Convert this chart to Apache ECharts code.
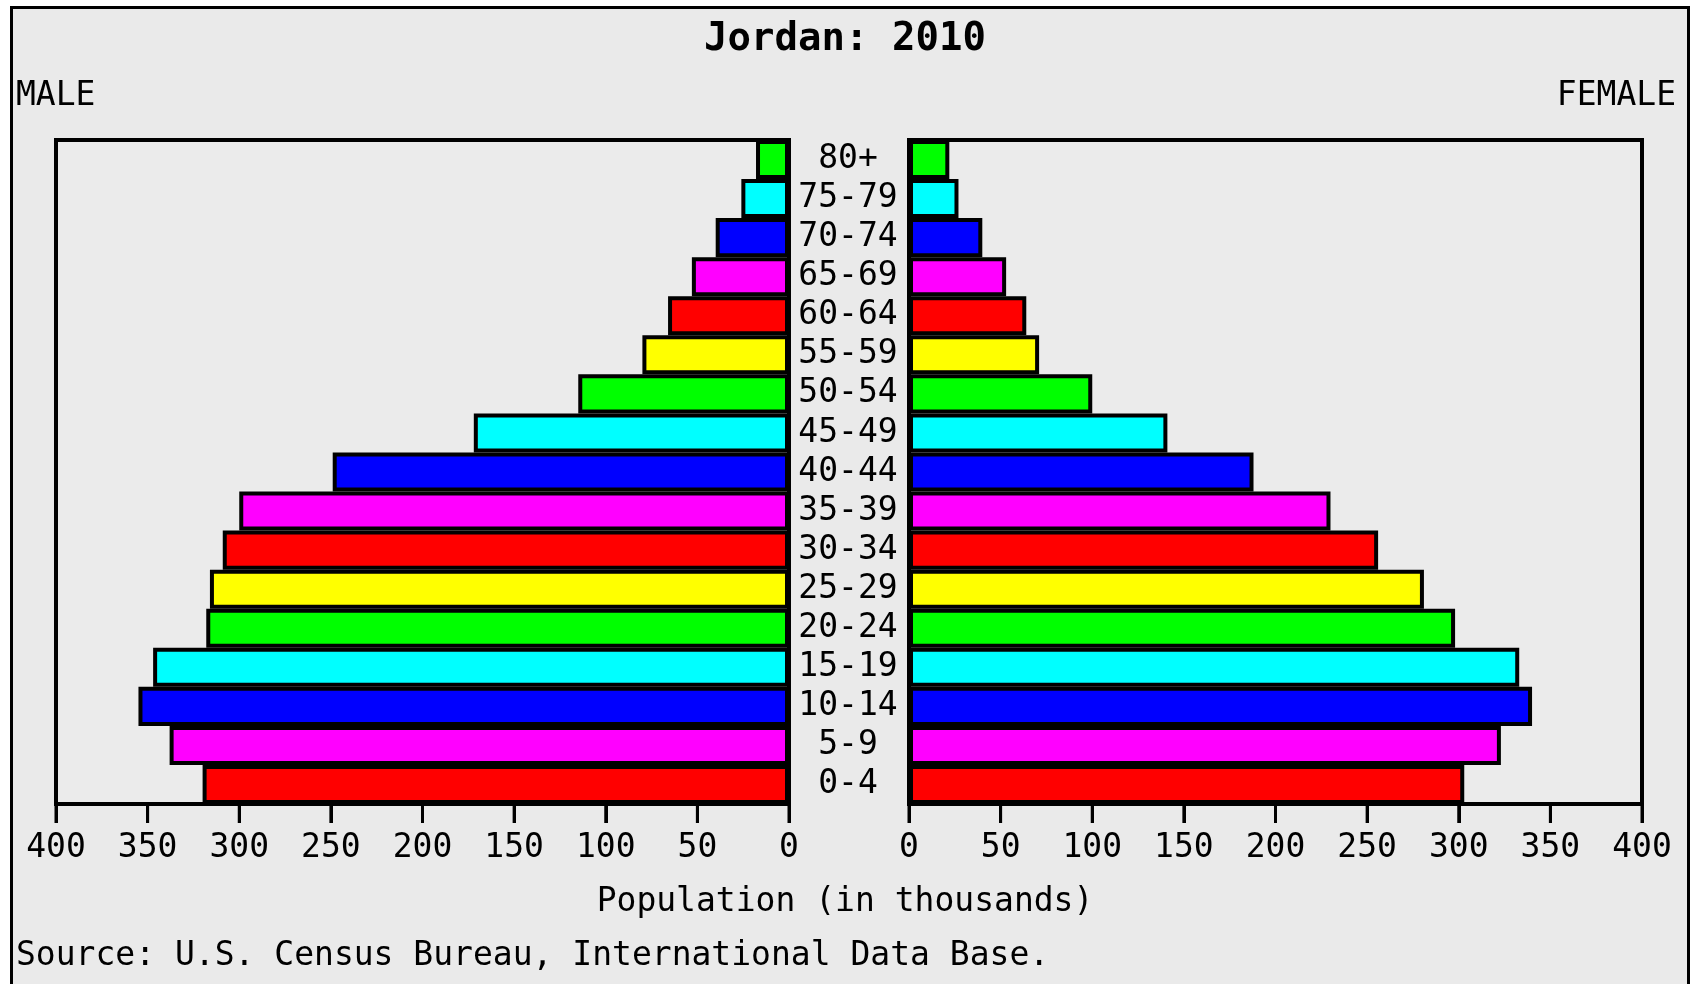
<!DOCTYPE html>
<html>
<head>
<meta charset="utf-8">
<script src="https://cdn.jsdelivr.net/npm/echarts@6/dist/echarts.min.js"></script>
<style>
html,body{margin:0;padding:0;background:#fff;overflow:hidden;}
#frame{position:absolute;left:10px;top:6px;width:1674px;height:1000px;background:#EAEAEA;border:3px solid #000;z-index:0;}
.plotbox{position:absolute;box-sizing:border-box;top:138px;width:737px;height:668px;border:4px solid #000;background:#EBEBEB;z-index:0;}
#chart{position:absolute;left:0;top:0;width:1690px;height:984px;z-index:1;}
</style>
</head>
<body>
<div id="frame"></div>
<div class="plotbox" style="left:54px"></div>
<div class="plotbox" style="left:907px"></div>
<div id="chart"></div>
<script>
const ageGroups = ['0-4','5-9','10-14','15-19','20-24','25-29','30-34','35-39','40-44','45-49','50-54','55-59','60-64','65-69','70-74','75-79','80+'];
const maleValues = [320, 338, 355, 347, 318, 316, 309, 300, 249, 172, 115, 80, 66, 53, 40, 26, 18];
const femaleValues = [303, 323, 340, 333, 298, 281, 256, 230, 188, 141, 100, 71, 64, 53, 40, 27, 22];
const barColors = ['#FF0000','#FF00FF','#0000FF','#00FFFF','#00FF00','#FFFF00'];
const xTicks = [0, 50, 100, 150, 200, 250, 300, 350, 400];

const FONT = '"DejaVu Sans Mono", "Liberation Mono", monospace';
const W = 1690;
const GRID_TOP = 140, GRID_BOTTOM = 180;
const TICK_LEN = 19;

function coloredData(values) {
  return values.map((v, i) => ({ value: v, itemStyle: { color: barColors[i % barColors.length] } }));
}

const chart = echarts.init(document.getElementById('chart'));

function makeXAxis(gridIndex, inverse) {
  return {
    type: 'value',
    gridIndex: gridIndex,
    inverse: inverse,
    position: 'bottom',
    min: xTicks[0],
    max: xTicks[xTicks.length - 1],
    interval: xTicks[1] - xTicks[0],
    splitLine: { show: false },
    axisLine: { show: true, onZero: false, lineStyle: { color: '#000', width: 4 } },
    axisTick: { show: true, inside: false, length: TICK_LEN, lineStyle: { color: '#000', width: 3 } },
    axisLabel: { show: true, color: '#000', fontFamily: FONT, fontSize: 33, margin: 28 }
  };
}

// Tick marks drawn through the axes' own scales (custom series, not clipped)
function tickSeries(gi) {
  return {
    type: 'custom', xAxisIndex: gi, yAxisIndex: gi, clip: false, silent: true, z: 10,
    data: xTicks.map(v => [v, 0]),
    encode: { x: 0, y: 1 },
    renderItem: function (params, api) {
      const x = api.coord([api.value(0), 0])[0];
      const cs = params.coordSys;
      const yb = cs.y + cs.height;
      return { type: 'line', shape: { x1: x, y1: yb, x2: x, y2: yb + TICK_LEN },
               style: { stroke: '#000', lineWidth: 3 } };
    }
  };
}

const option = {
  backgroundColor: 'transparent',
  animation: false,
  graphic: [
    { type: 'text', left: 'center', top: 20,
      style: { text: 'Jordan: 2010', font: 'bold 39px ' + FONT, fill: '#000' } },
    { type: 'text', left: 16, top: 80,
      style: { text: 'MALE', font: '33px ' + FONT, fill: '#000' } },
    { type: 'text', right: 14, top: 80,
      style: { text: 'FEMALE', font: '33px ' + FONT, fill: '#000' } },
    { type: 'text', left: 'center', top: 886,
      style: { text: 'Population (in thousands)', font: '33px ' + FONT, fill: '#000' } },
    { type: 'text', left: 16, top: 940,
      style: { text: 'Source: U.S. Census Bureau, International Data Base.', font: '33px ' + FONT, fill: '#000' } }
  ],
  grid: [
    { left: 56, right: W - 789, top: GRID_TOP, bottom: GRID_BOTTOM },
    { left: 909, right: W - 1642, top: GRID_TOP, bottom: GRID_BOTTOM }
  ],
  xAxis: [ makeXAxis(0, true), makeXAxis(1, false) ],
  yAxis: [
    { type: 'category', gridIndex: 0, data: ageGroups, position: 'right',
      axisLine: { show: false }, axisTick: { show: false }, axisLabel: { show: false } },
    { type: 'category', gridIndex: 1, data: ageGroups, position: 'left',
      axisLine: { show: false }, axisTick: { show: false },
      axisLabel: { show: true, interval: 0, color: '#000', fontFamily: FONT, fontSize: 33, align: 'center', margin: 61 } }
  ],
  series: [
    { type: 'bar', name: 'Male', xAxisIndex: 0, yAxisIndex: 0, data: coloredData(maleValues),
      barCategoryGap: '0%', itemStyle: { borderColor: '#000', borderWidth: 4 } },
    { type: 'bar', name: 'Female', xAxisIndex: 1, yAxisIndex: 1, data: coloredData(femaleValues),
      barCategoryGap: '0%', itemStyle: { borderColor: '#000', borderWidth: 4 } },
    tickSeries(0),
    tickSeries(1)
  ]
};

chart.setOption(option);
</script>
</body>
</html>
